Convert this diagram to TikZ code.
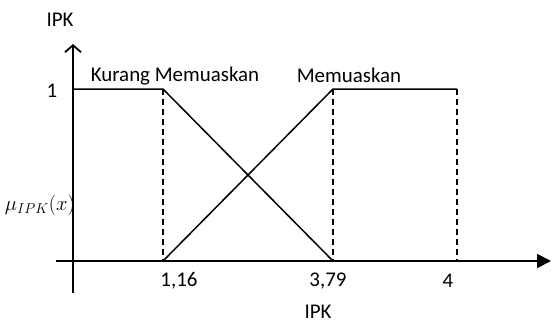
\documentclass[tikz,border=0pt]{standalone}
\usepackage{fontspec}
\setmainfont{Carlito}
\usepackage{tikz}
\usetikzlibrary{arrows.meta}

\begin{document}
\begin{tikzpicture}[x=1bp, y=-1bp, font=\fontsize{21}{24}\selectfont,
    curve/.style={line width=1.5bp},
    guide/.style={line width=1.5bp, dash pattern=on 6bp off 4bp}]
        \useasboundingbox (0,0) rectangle (552,325);

        % Axes
        \coordinate (o) at (73,261);
        \coordinate (ytop) at (73,44);
        \coordinate (ybot) at (73,293);
        \coordinate (xleft) at (56,261);
        \coordinate (xright) at (551,261);
        \draw[line width=1.8bp, -{Straight Barb[length=7bp,width=16bp]}] (ybot) -- (ytop);
        \draw[line width=1.8bp, -{Triangle[length=14bp,width=14bp]}] (xleft) -- (xright);

        % Membership points
        \coordinate (a0) at (74,89);
        \coordinate (a1) at (163,89);
        \coordinate (b1) at (163,261);
        \coordinate (a2) at (333,89);
        \coordinate (b2) at (333,261);
        \coordinate (a3) at (457,89);
        \coordinate (b3) at (457,261);

        % Kurang Memuaskan
        \draw[curve] (a0) -- (a1) -- (b2);
        % Memuaskan
        \draw[curve] (b1) -- (a2) -- (a3);

        % Guides
        \draw[guide] (a1) -- (b1);
        \draw[guide] (a2) -- (b2);
        \draw[guide] (a3) -- (b3);

        % Labels
        \node (ylab) at (60,20) {IPK};
        \node (one) at (52,91) {1};
        \node (mu) at (40,205) {$\mu_{IPK}(x)$};
        \node (km) at (175,76) {Kurang Memuaskan};
        \node (m) at (349,75) {Memuaskan};
        \node (t1) at (179,281) {1,16};
        \node (t2) at (328,281) {3,79};
        \node (t3) at (448,281) {4};
        \node (xlab) at (318,312) {IPK};
    \end{tikzpicture}
\end{document}
